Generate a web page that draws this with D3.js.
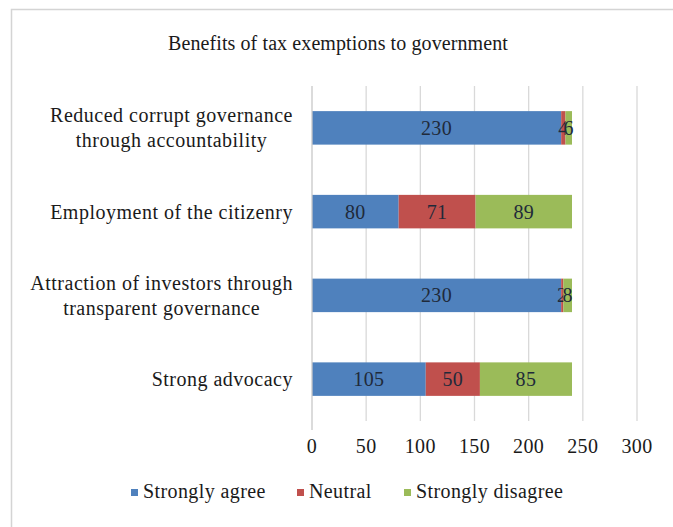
<!DOCTYPE html>
<html>
<head>
<meta charset="utf-8">
<script src="https://cdn.jsdelivr.net/npm/d3@7"></script>
<style>
  body { margin: 0; background: #fff; }
  text { font-family: "Liberation Serif", "DejaVu Serif", serif; }
</style>
</head>
<body>
<div id="chart"></div>
<script>
var categories = [
  ['Reduced corrupt governance', 'through accountability'],
  ['Employment of the citizenry'],
  ['Attraction of investors through', 'transparent governance'],
  ['Strong advocacy']
];
var seriesNames = ['Strongly agree', 'Neutral', 'Strongly disagree'];
var stronglyAgree = [230, 80, 230, 105];
var neutral = [4, 71, 2, 50];
var stronglyDisagree = [6, 89, 8, 85];
var ticks = [0, 50, 100, 150, 200, 250, 300];
var colors = ['#4f81bd', '#c0504d', '#9bbb59'];

(() => {
  var width = 673, height = 527;

  var svg = d3.select('#chart')
    .append('svg')
    .attr('width', width)
    .attr('height', height);

  // chart frame (runs off the right/bottom edge)
  svg.append('rect')
    .attr('x', 11.5).attr('y', 9.5)
    .attr('width', 700).attr('height', 560)
    .attr('fill', '#fff')
    .attr('stroke', '#d4d4d4')
    .attr('stroke-width', 1.5);

  svg.append('text')
    .attr('x', 338).attr('y', 50)
    .attr('text-anchor', 'middle')
    .attr('font-size', 20)
    .attr('letter-spacing', 0.1)
    .attr('fill', '#1a1a1a')
    .text('Benefits of tax exemptions to government');

  var x = d3.scaleLinear().domain([0, 300]).range([312, 637]);
  var y = d3.scaleBand()
    .domain(d3.range(categories.length))
    .range([86, 421])
    .paddingInner(0.6)
    .paddingOuter(0.3);

  // gridlines
  svg.append('g')
    .selectAll('line')
    .data(ticks.slice(1))
    .enter().append('line')
      .attr('x1', d => x(d)).attr('x2', d => x(d))
      .attr('y1', 86).attr('y2', 421)
      .attr('stroke', '#d9d9d9')
      .attr('stroke-width', 1.3);

  var rows = stronglyAgree.map((d, i) => ({
    i: i,
    'Strongly agree': d,
    'Neutral': neutral[i],
    'Strongly disagree': stronglyDisagree[i]
  }));
  var stack = d3.stack().keys(seriesNames)(rows);

  var layers = svg.append('g')
    .selectAll('g')
    .data(stack)
    .enter().append('g')
      .attr('fill', (d, i) => colors[i]);

  layers.selectAll('rect')
    .data(d => d)
    .enter().append('rect')
      .attr('x', d => x(d[0]))
      .attr('y', d => y(d.data.i))
      .attr('width', d => x(d[1]) - x(d[0]))
      .attr('height', y.bandwidth());

  layers.selectAll('text')
    .data(d => d)
    .enter().append('text')
      .attr('x', d => x((d[0] + d[1]) / 2))
      .attr('y', d => y(d.data.i) + y.bandwidth() / 2 + 7)
      .attr('text-anchor', 'middle')
      .attr('font-size', 20)
      .attr('letter-spacing', 0.4)
      .attr('fill', '#1f2a3a')
      .text(d => d[1] - d[0]);

  // vertical axis line
  svg.append('line')
    .attr('x1', x(0)).attr('x2', x(0))
    .attr('y1', 86).attr('y2', 430)
    .attr('stroke', '#c8c8c8')
    .attr('stroke-width', 1.3);

  // category labels
  var labels = svg.append('g')
    .selectAll('text')
    .data(categories)
    .enter().append('text')
      .attr('font-size', 20)
      .attr('letter-spacing', 0.5)
      .attr('fill', '#1a1a1a')
      .attr('text-anchor', 'middle');

  labels.each(function(lines, i) {
    var t = d3.select(this);
    var cy = y(i) + y.bandwidth() / 2;
    var tmp = lines.map(l => {
      var s = t.append('tspan').text(l);
      var w = s.node().getComputedTextLength();
      return { s: s, w: w };
    });
    var maxW = d3.max(tmp, d => d.w);
    var cx = 293 - maxW / 2;
    var y0 = cy + 7 - (lines.length - 1) * 12.5;
    tmp.forEach((d, k) => {
      d.s.attr('x', cx).attr('y', y0 + k * 25);
    });
  });

  // x tick labels
  svg.append('g')
    .selectAll('text')
    .data(ticks)
    .enter().append('text')
      .attr('x', d => x(d))
      .attr('y', 453)
      .attr('text-anchor', 'middle')
      .attr('font-size', 20)
      .attr('letter-spacing', 0.4)
      .attr('fill', '#1a1a1a')
      .text(d => d);

  // legend
  var legendX = [131, 297, 404];
  var legend = svg.append('g')
    .selectAll('g')
    .data(seriesNames)
    .enter().append('g')
      .attr('transform', (d, i) => 'translate(' + legendX[i] + ',498)');
  legend.append('rect')
    .attr('x', 0).attr('y', -9)
    .attr('width', 7).attr('height', 7)
    .attr('fill', (d, i) => colors[i]);
  legend.append('text')
    .attr('x', 12).attr('y', 0)
    .attr('font-size', 20)
    .attr('letter-spacing', 0.4)
    .attr('fill', '#1a1a1a')
    .text(d => d);
})();
</script>
</body>
</html>
